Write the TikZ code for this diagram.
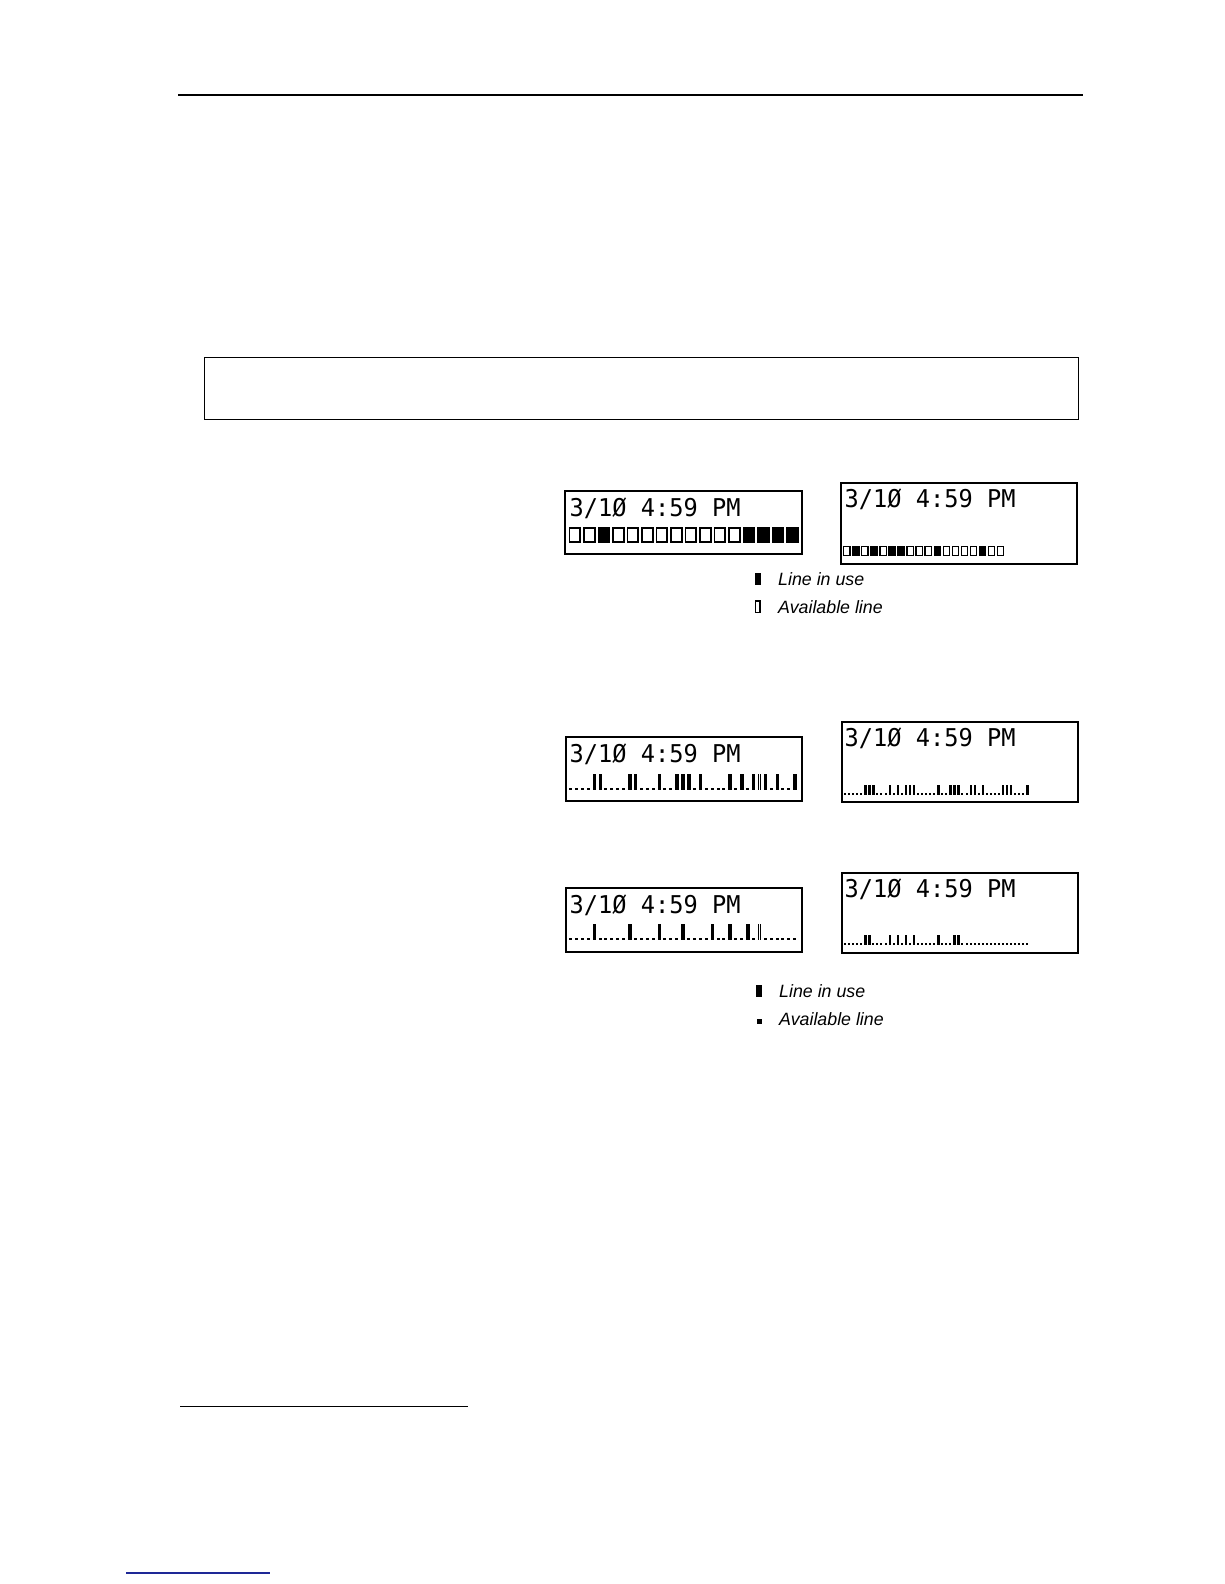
\documentclass[tikz,border=0pt]{standalone}
\usepackage{fontspec}
\setmainfont{Liberation Sans}
\newfontfamily\lcdfont[FakeStretch=0.965]{DejaVu Sans Mono}
\newcommand\lcdrow[8]{% x0, pitch, top, barh, barw, dotw, doth, list
  \foreach \t [count=\i from 0] in {#8} {
    \pgfmathsetmacro\xx{#1+\i*#2}
    \ifcase\t\relax
      \fill (\xx,#3+#4-#7) rectangle ++(#6,#7);
    \or
      \fill (\xx,#3) rectangle ++(#5,#4);
    \or
      \fill (\xx,#3) rectangle ++(1.1,#4);
      \fill (\xx+2.2,#3) rectangle ++(1.1,#4);
    \fi
  }}
\newcommand\sqrow[7]{% x0, pitch, top, w, h, lw, list
  \foreach \t [count=\i from 0] in {#7} {
    \pgfmathsetmacro\xx{#1+\i*#2}
    \ifcase\t\relax
      \draw[line width=#6] (\xx+#6/2,#3+#6/2) rectangle (\xx+#4-#6/2,#3+#5-#6/2);
    \or
      \fill (\xx,#3) rectangle ++(#4,#5);
    \fi
  }}
\begin{document}
\begin{tikzpicture}[x=1pt,y=-1pt,
  lcdbox/.style={draw, line width=1.7pt, anchor=north west, inner sep=0pt},
  lcdtext/.style={anchor=base west, inner sep=0pt, font=\lcdfont\fontsize{24.5}{29}\selectfont},
  legtext/.style={anchor=base west, inner sep=0pt, font=\fontsize{17.8}{21}\selectfont\itshape},
  rulebox/.style={draw, line width=1.2pt, anchor=north west, inner sep=0pt}]
\useasboundingbox (0,0) rectangle (1224,1584);
\fill[white] (0,0) rectangle (1224,1584);

% header rule
\coordinate (hrA) at (178,95);
\coordinate (hrB) at (1083,95);
\draw[line width=1.2pt] (hrA) -- (hrB);

% empty note box
\node[rulebox, minimum width=874pt, minimum height=62pt] (note) at (204,357) {};

% display 1
\node[lcdbox, minimum width=237pt, minimum height=63pt] (d1) at (564,490) {};
\node[lcdtext] (t1) at (569.5,516) {3/1Ø 4:59 PM};
\sqrow{568.5}{14.5}{527}{12.5}{16}{1.8}{0,0,1,0,0,0,0,0,0,0,0,0,1,1,1,1}

% display 2
\node[lcdbox, minimum width=236pt, minimum height=81pt] (d2) at (840,482) {};
\node[lcdtext] (t2) at (844.5,507) {3/1Ø 4:59 PM};
\sqrow{843}{9.05}{546}{7.6}{10}{1.3}{0,1,0,1,0,1,1,0,0,0,1,0,0,0,0,1,0,0}

% legend 1
\fill (755,573) rectangle (760.5,585);
\draw[line width=1.4pt] (755.7,601) rectangle (759.8,612.5);
\node[legtext] (l1a) at (778,585) {Line in use};
\node[legtext] (l1b) at (778,613) {Available line};

% display 3
\node[lcdbox, minimum width=236pt, minimum height=64pt] (d3) at (565,736) {};
\node[lcdtext] (t3) at (569.5,762) {3/1Ø 4:59 PM};
\lcdrow{569}{5.9}{774}{16}{3.5}{3}{2}{0,0,0,0,1,1,0,0,0,0,1,1,0,0,0,1,0,0,1,1,1,0,1,0,0,0,0,1,0,1,0,1,2,1,0,1,0,0,1}

% display 4
\node[lcdbox, minimum width=236pt, minimum height=80pt] (d4) at (841,721) {};
\node[lcdtext] (t4) at (844.5,746) {3/1Ø 4:59 PM};
\lcdrow{844}{4.05}{785}{9.5}{2.4}{2}{1.6}{0,0,0,0,0,1,1,1,0,0,0,1,0,1,0,1,1,1,0,0,0,0,0,1,0,0,1,1,1,0,0,1,1,0,1,0,0,0,0,1,1,1,0,0,0,1}

% display 5
\node[lcdbox, minimum width=236pt, minimum height=64pt] (d5) at (565,887) {};
\node[lcdtext] (t5) at (569.5,913) {3/1Ø 4:59 PM};
\lcdrow{569}{5.9}{924}{16}{3.5}{3}{2}{0,0,0,0,1,0,0,0,0,0,1,0,0,0,0,1,0,0,0,1,0,0,0,0,1,0,0,1,0,0,1,0,2,0,0,0,0,0,0}

% display 6
\node[lcdbox, minimum width=236pt, minimum height=80pt] (d6) at (841,872) {};
\node[lcdtext] (t6) at (844.5,897) {3/1Ø 4:59 PM};
\lcdrow{844}{4.05}{935}{9.5}{2.4}{2}{1.6}{0,0,0,0,0,1,1,0,0,0,0,1,0,1,0,1,0,1,0,0,0,0,0,1,0,0,0,1,1,0,0,0,0,0,0,0,0,0,0,0,0,0,0,0,0,0}

% legend 2
\fill (756,985) rectangle (762,997);
\fill (757,1019) rectangle (762,1024);
\node[legtext] (l2a) at (779,997) {Line in use};
\node[legtext] (l2b) at (779,1025) {Available line};

% footnote rule
\coordinate (frA) at (180,1406);
\coordinate (frB) at (468,1406);
\draw[line width=1pt] (frA) -- (frB);

% link underline
\coordinate (ulA) at (126,1573);
\coordinate (ulB) at (270,1573);
\draw[line width=1.5pt, color={rgb,255:red,30;green,40;blue,150}] (ulA) -- (ulB);
\end{tikzpicture}
\end{document}
